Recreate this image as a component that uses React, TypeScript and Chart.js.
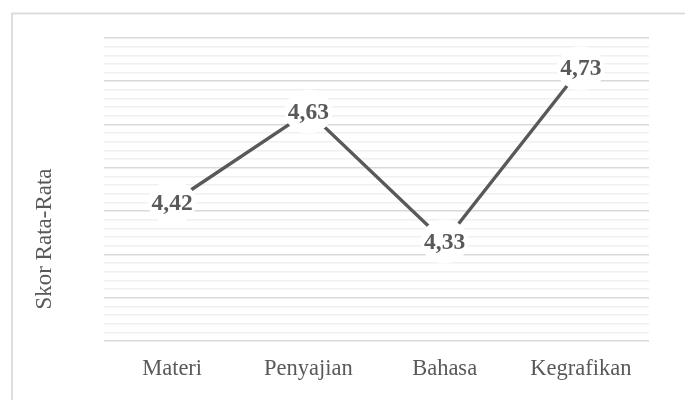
import React, { useEffect, useRef } from "react";
import { Chart, registerables } from "chart.js";

Chart.register(...registerables);

const categories = ["Materi", "Penyajian", "Bahasa", "Kegrafikan"];
const scores = [4.42, 4.63, 4.33, 4.73];
const yMin = 4.1;
const yMax = 4.8;
const minorStep = 0.02;
const majorEvery = 5;
const yTitle = "Skor Rata-Rata";

const FONT = "'Liberation Serif', 'DejaVu Serif', serif";
const TEXT = "#595959";

const fmt = (v: number) => v.toFixed(2).replace(".", ",");

const framePlugin = {
  id: "frame",
  beforeDraw(chart: any) {
    const ctx = chart.ctx;
    ctx.save();
    ctx.fillStyle = "#ffffff";
    ctx.fillRect(0, 0, chart.width, chart.height);
    ctx.strokeStyle = "#d9d9d9";
    ctx.lineWidth = 1.75;
    ctx.strokeRect(12, 13.5, chart.width + 20, chart.height + 20);
    ctx.restore();
  },
  afterDraw(chart: any) {
    const ctx = chart.ctx;
    ctx.save();
    ctx.translate(45, (chart.chartArea.top + chart.height) / 2 + 20);
    ctx.rotate(-Math.PI / 2);
    ctx.font = `23px ${FONT}`;
    ctx.fillStyle = TEXT;
    ctx.textAlign = "center";
    ctx.textBaseline = "middle";
    ctx.fillText(yTitle, 0, 0);
    ctx.restore();
  },
};

const labelPlugin = {
  id: "valueLabels",
  afterDatasetsDraw(chart: any) {
    const ctx = chart.ctx;
    const meta = chart.getDatasetMeta(0);
    const data = chart.data.datasets[0].data as number[];
    ctx.save();
    meta.data.forEach((pt: any, i: number) => {
      ctx.beginPath();
      ctx.ellipse(pt.x, pt.y, 24, 22, 0, 0, Math.PI * 2);
      ctx.fillStyle = "#ffffff";
      ctx.fill();
      ctx.font = `bold 23.5px ${FONT}`;
      ctx.fillStyle = TEXT;
      ctx.textAlign = "center";
      ctx.textBaseline = "middle";
      ctx.fillText(fmt(data[i]), pt.x, pt.y + 1);
    });
    ctx.restore();
  },
};

export default function App() {
  const ref = useRef<HTMLCanvasElement | null>(null);
  useEffect(() => {
    if (!ref.current) return;
    const chart = new Chart(ref.current, {
      type: "line",
      data: {
        labels: categories,
        datasets: [
          {
            data: scores,
            borderColor: "#595959",
            borderWidth: 3.4,
            pointRadius: 0,
            tension: 0,
          },
        ],
      },
      options: {
        animation: false,
        responsive: false,
        layout: { padding: { top: 38, right: 36, left: 0, bottom: 0 } },
        plugins: { legend: { display: false }, tooltip: { enabled: false } },
        scales: {
          x: {
            offset: true,
            grid: { display: false, drawTicks: false },
            border: { display: false },
            ticks: {
              color: TEXT,
              font: { family: FONT, size: 22.5 },
              padding: 15,
              maxRotation: 0,
            },
            afterFit: (s: any) => {
              s.height = 59;
            },
          },
          y: {
            min: yMin,
            max: yMax,
            border: { display: false },
            ticks: { display: false, stepSize: minorStep },
            grid: {
              drawTicks: false,
              color: (c: any) => (c.index % majorEvery === 0 ? "#d9d9d9" : "#f0f0f0"),
              lineWidth: 1.6,
            },
            afterFit: (s: any) => {
              s.width = 104;
            },
          },
        },
      },
      plugins: [framePlugin, labelPlugin],
    });
    return () => chart.destroy();
  }, []);
  return (
    <div style={{ position: "fixed", left: 0, top: 0, width: 685, height: 400, background: "#fff" }}>
      <canvas ref={ref} width={685} height={400} />
    </div>
  );
}
